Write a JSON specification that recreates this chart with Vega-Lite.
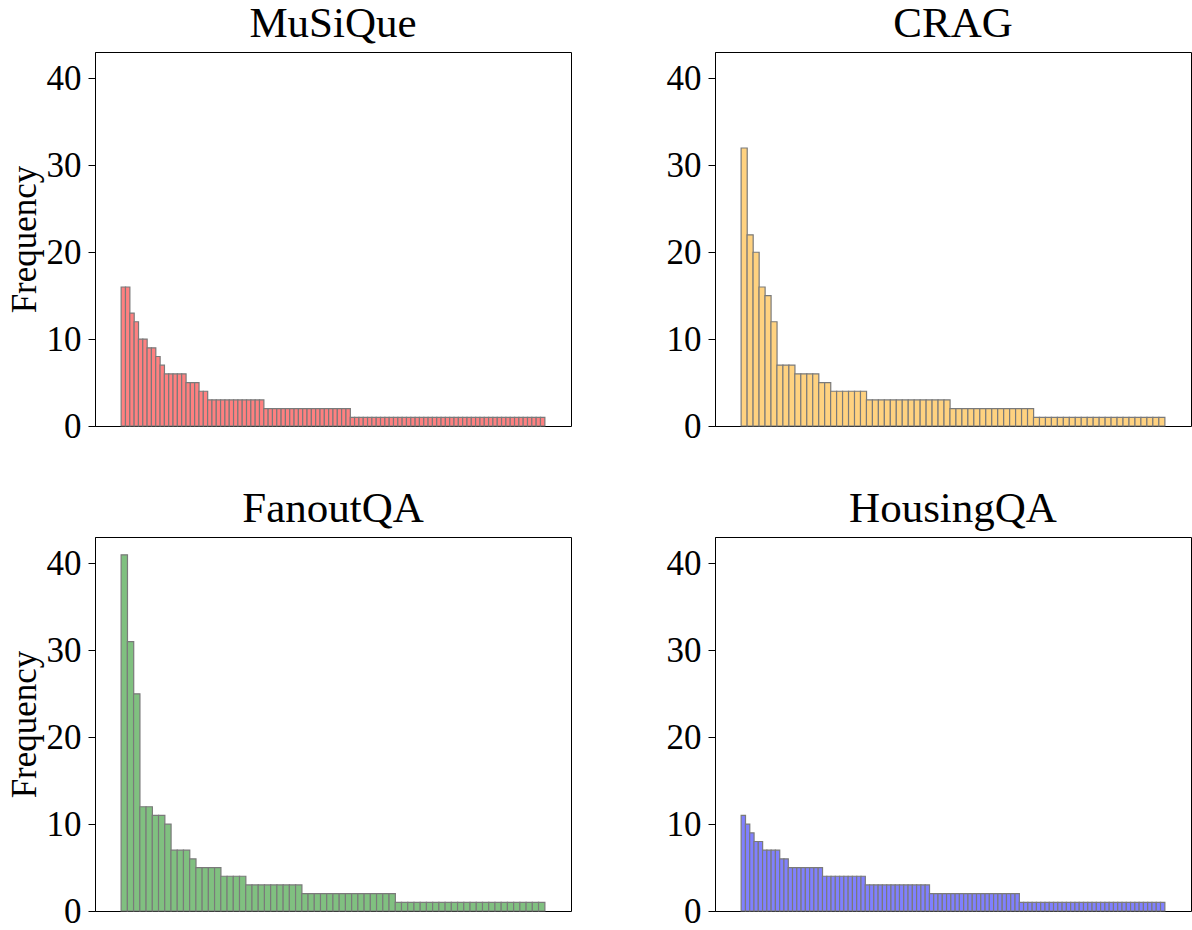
{
  "$schema": "https://vega.github.io/schema/vega-lite/v6.json",
  "background": "white",
  "padding": {"left": 6, "top": 2, "right": 0, "bottom": 0},
  "bounds": "flush",
  "columns": 2,
  "spacing": {"row": 111, "column": 144},
  "config": {
    "font": "Liberation Serif",
    "view": {"stroke": "black", "strokeWidth": 1},
    "axis": {"grid": false, "labelFont": "Liberation Serif", "titleFont": "Liberation Serif", "labelFontSize": 35, "titleFontSize": 35, "titleFontWeight": "normal", "labelColor": "black", "titleColor": "black", "tickColor": "black", "domainColor": "black", "tickSize": 7, "labelPadding": 7, "titlePadding": 4},
    "title": {"font": "Liberation Serif", "fontSize": 43, "fontWeight": "normal", "color": "black", "offset": 6}
  },
  "datasets": {
    "musique": [
      {"i":1,"f":16},{"i":2,"f":16},{"i":3,"f":13},{"i":4,"f":12},{"i":5,"f":10},{"i":6,"f":10},{"i":7,"f":9},{"i":8,"f":9},{"i":9,"f":8},{"i":10,"f":7},
      {"i":11,"f":6},{"i":12,"f":6},{"i":13,"f":6},{"i":14,"f":6},{"i":15,"f":6},{"i":16,"f":5},{"i":17,"f":5},{"i":18,"f":5},{"i":19,"f":4},{"i":20,"f":4},
      {"i":21,"f":3},{"i":22,"f":3},{"i":23,"f":3},{"i":24,"f":3},{"i":25,"f":3},{"i":26,"f":3},{"i":27,"f":3},{"i":28,"f":3},{"i":29,"f":3},{"i":30,"f":3},
      {"i":31,"f":3},{"i":32,"f":3},{"i":33,"f":3},{"i":34,"f":2},{"i":35,"f":2},{"i":36,"f":2},{"i":37,"f":2},{"i":38,"f":2},{"i":39,"f":2},{"i":40,"f":2},
      {"i":41,"f":2},{"i":42,"f":2},{"i":43,"f":2},{"i":44,"f":2},{"i":45,"f":2},{"i":46,"f":2},{"i":47,"f":2},{"i":48,"f":2},{"i":49,"f":2},{"i":50,"f":2},
      {"i":51,"f":2},{"i":52,"f":2},{"i":53,"f":2},{"i":54,"f":1},{"i":55,"f":1},{"i":56,"f":1},{"i":57,"f":1},{"i":58,"f":1},{"i":59,"f":1},{"i":60,"f":1},
      {"i":61,"f":1},{"i":62,"f":1},{"i":63,"f":1},{"i":64,"f":1},{"i":65,"f":1},{"i":66,"f":1},{"i":67,"f":1},{"i":68,"f":1},{"i":69,"f":1},{"i":70,"f":1},
      {"i":71,"f":1},{"i":72,"f":1},{"i":73,"f":1},{"i":74,"f":1},{"i":75,"f":1},{"i":76,"f":1},{"i":77,"f":1},{"i":78,"f":1},{"i":79,"f":1},{"i":80,"f":1},
      {"i":81,"f":1},{"i":82,"f":1},{"i":83,"f":1},{"i":84,"f":1},{"i":85,"f":1},{"i":86,"f":1},{"i":87,"f":1},{"i":88,"f":1},{"i":89,"f":1},{"i":90,"f":1},
      {"i":91,"f":1},{"i":92,"f":1},{"i":93,"f":1},{"i":94,"f":1},{"i":95,"f":1},{"i":96,"f":1},{"i":97,"f":1},{"i":98,"f":1}
    ],
    "crag": [
      {"i":1,"f":32},{"i":2,"f":22},{"i":3,"f":20},{"i":4,"f":16},{"i":5,"f":15},{"i":6,"f":12},{"i":7,"f":7},{"i":8,"f":7},{"i":9,"f":7},{"i":10,"f":6},
      {"i":11,"f":6},{"i":12,"f":6},{"i":13,"f":6},{"i":14,"f":5},{"i":15,"f":5},{"i":16,"f":4},{"i":17,"f":4},{"i":18,"f":4},{"i":19,"f":4},{"i":20,"f":4},
      {"i":21,"f":4},{"i":22,"f":3},{"i":23,"f":3},{"i":24,"f":3},{"i":25,"f":3},{"i":26,"f":3},{"i":27,"f":3},{"i":28,"f":3},{"i":29,"f":3},{"i":30,"f":3},
      {"i":31,"f":3},{"i":32,"f":3},{"i":33,"f":3},{"i":34,"f":3},{"i":35,"f":3},{"i":36,"f":2},{"i":37,"f":2},{"i":38,"f":2},{"i":39,"f":2},{"i":40,"f":2},
      {"i":41,"f":2},{"i":42,"f":2},{"i":43,"f":2},{"i":44,"f":2},{"i":45,"f":2},{"i":46,"f":2},{"i":47,"f":2},{"i":48,"f":2},{"i":49,"f":2},{"i":50,"f":1},
      {"i":51,"f":1},{"i":52,"f":1},{"i":53,"f":1},{"i":54,"f":1},{"i":55,"f":1},{"i":56,"f":1},{"i":57,"f":1},{"i":58,"f":1},{"i":59,"f":1},{"i":60,"f":1},
      {"i":61,"f":1},{"i":62,"f":1},{"i":63,"f":1},{"i":64,"f":1},{"i":65,"f":1},{"i":66,"f":1},{"i":67,"f":1},{"i":68,"f":1},{"i":69,"f":1},{"i":70,"f":1},
      {"i":71,"f":1}
    ],
    "fanout": [
      {"i":1,"f":41},{"i":2,"f":31},{"i":3,"f":25},{"i":4,"f":12},{"i":5,"f":12},{"i":6,"f":11},{"i":7,"f":11},{"i":8,"f":10},{"i":9,"f":7},{"i":10,"f":7},
      {"i":11,"f":7},{"i":12,"f":6},{"i":13,"f":5},{"i":14,"f":5},{"i":15,"f":5},{"i":16,"f":5},{"i":17,"f":4},{"i":18,"f":4},{"i":19,"f":4},{"i":20,"f":4},
      {"i":21,"f":3},{"i":22,"f":3},{"i":23,"f":3},{"i":24,"f":3},{"i":25,"f":3},{"i":26,"f":3},{"i":27,"f":3},{"i":28,"f":3},{"i":29,"f":3},{"i":30,"f":2},
      {"i":31,"f":2},{"i":32,"f":2},{"i":33,"f":2},{"i":34,"f":2},{"i":35,"f":2},{"i":36,"f":2},{"i":37,"f":2},{"i":38,"f":2},{"i":39,"f":2},{"i":40,"f":2},
      {"i":41,"f":2},{"i":42,"f":2},{"i":43,"f":2},{"i":44,"f":2},{"i":45,"f":1},{"i":46,"f":1},{"i":47,"f":1},{"i":48,"f":1},{"i":49,"f":1},{"i":50,"f":1},
      {"i":51,"f":1},{"i":52,"f":1},{"i":53,"f":1},{"i":54,"f":1},{"i":55,"f":1},{"i":56,"f":1},{"i":57,"f":1},{"i":58,"f":1},{"i":59,"f":1},{"i":60,"f":1},
      {"i":61,"f":1},{"i":62,"f":1},{"i":63,"f":1},{"i":64,"f":1},{"i":65,"f":1},{"i":66,"f":1},{"i":67,"f":1},{"i":68,"f":1}
    ],
    "housing": [
      {"i":1,"f":11},{"i":2,"f":10},{"i":3,"f":9},{"i":4,"f":8},{"i":5,"f":8},{"i":6,"f":7},{"i":7,"f":7},{"i":8,"f":7},{"i":9,"f":7},{"i":10,"f":6},
      {"i":11,"f":6},{"i":12,"f":5},{"i":13,"f":5},{"i":14,"f":5},{"i":15,"f":5},{"i":16,"f":5},{"i":17,"f":5},{"i":18,"f":5},{"i":19,"f":5},{"i":20,"f":4},
      {"i":21,"f":4},{"i":22,"f":4},{"i":23,"f":4},{"i":24,"f":4},{"i":25,"f":4},{"i":26,"f":4},{"i":27,"f":4},{"i":28,"f":4},{"i":29,"f":4},{"i":30,"f":3},
      {"i":31,"f":3},{"i":32,"f":3},{"i":33,"f":3},{"i":34,"f":3},{"i":35,"f":3},{"i":36,"f":3},{"i":37,"f":3},{"i":38,"f":3},{"i":39,"f":3},{"i":40,"f":3},
      {"i":41,"f":3},{"i":42,"f":3},{"i":43,"f":3},{"i":44,"f":3},{"i":45,"f":2},{"i":46,"f":2},{"i":47,"f":2},{"i":48,"f":2},{"i":49,"f":2},{"i":50,"f":2},
      {"i":51,"f":2},{"i":52,"f":2},{"i":53,"f":2},{"i":54,"f":2},{"i":55,"f":2},{"i":56,"f":2},{"i":57,"f":2},{"i":58,"f":2},{"i":59,"f":2},{"i":60,"f":2},
      {"i":61,"f":2},{"i":62,"f":2},{"i":63,"f":2},{"i":64,"f":2},{"i":65,"f":2},{"i":66,"f":1},{"i":67,"f":1},{"i":68,"f":1},{"i":69,"f":1},{"i":70,"f":1},
      {"i":71,"f":1},{"i":72,"f":1},{"i":73,"f":1},{"i":74,"f":1},{"i":75,"f":1},{"i":76,"f":1},{"i":77,"f":1},{"i":78,"f":1},{"i":79,"f":1},{"i":80,"f":1},
      {"i":81,"f":1},{"i":82,"f":1},{"i":83,"f":1},{"i":84,"f":1},{"i":85,"f":1},{"i":86,"f":1},{"i":87,"f":1},{"i":88,"f":1},{"i":89,"f":1},{"i":90,"f":1},
      {"i":91,"f":1},{"i":92,"f":1},{"i":93,"f":1},{"i":94,"f":1},{"i":95,"f":1},{"i":96,"f":1},{"i":97,"f":1},{"i":98,"f":1},{"i":99,"f":1}
    ]
  },
  "concat": [
    {
      "title": "MuSiQue",
      "width": 476, "height": 374,
      "data": {"name": "musique"},
      "mark": {"type": "bar", "fill": "#ff8080", "stroke": "#7a7a7a", "strokeWidth": 1.2, "width": 4.416},
      "encoding": {
        "x": {"field": "i", "type": "quantitative", "axis": null, "scale": {"domain": [-4.4, 103.4], "nice": false, "zero": false}},
        "y": {"field": "f", "type": "quantitative", "scale": {"domain": [0, 43.05], "nice": false, "zero": true}, "axis": {"values": [0, 10, 20, 30, 40], "title": "Frequency"}}
      }
    },
    {
      "title": "CRAG",
      "width": 476, "height": 374,
      "data": {"name": "crag"},
      "mark": {"type": "bar", "fill": "#ffd280", "stroke": "#7a7a7a", "strokeWidth": 1.2, "width": 6.095},
      "encoding": {
        "x": {"field": "i", "type": "quantitative", "axis": null, "scale": {"domain": [-3.05, 75.05], "nice": false, "zero": false}},
        "y": {"field": "f", "type": "quantitative", "scale": {"domain": [0, 43.05], "nice": false, "zero": true}, "axis": {"values": [0, 10, 20, 30, 40], "title": null}}
      }
    },
    {
      "title": "FanoutQA",
      "width": 476, "height": 374,
      "data": {"name": "fanout"},
      "mark": {"type": "bar", "fill": "#80c080", "stroke": "#7a7a7a", "strokeWidth": 1.2, "width": 6.364},
      "encoding": {
        "x": {"field": "i", "type": "quantitative", "axis": null, "scale": {"domain": [-2.9, 71.9], "nice": false, "zero": false}},
        "y": {"field": "f", "type": "quantitative", "scale": {"domain": [0, 43.05], "nice": false, "zero": true}, "axis": {"values": [0, 10, 20, 30, 40], "title": "Frequency"}}
      }
    },
    {
      "title": "HousingQA",
      "width": 476, "height": 374,
      "data": {"name": "housing"},
      "mark": {"type": "bar", "fill": "#8080ff", "stroke": "#7a7a7a", "strokeWidth": 1.2, "width": 4.371},
      "encoding": {
        "x": {"field": "i", "type": "quantitative", "axis": null, "scale": {"domain": [-4.45, 104.45], "nice": false, "zero": false}},
        "y": {"field": "f", "type": "quantitative", "scale": {"domain": [0, 43.05], "nice": false, "zero": true}, "axis": {"values": [0, 10, 20, 30, 40], "title": null}}
      }
    }
  ]
}
